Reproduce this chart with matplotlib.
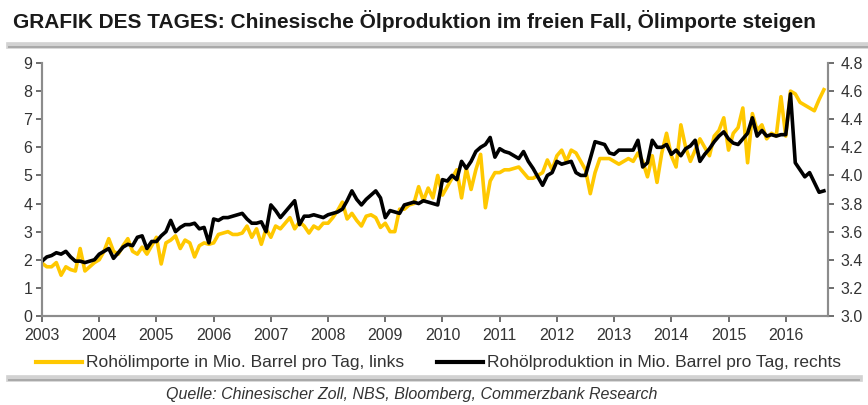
import matplotlib
matplotlib.use("Agg")
import matplotlib.pyplot as plt
from matplotlib.lines import Line2D
import numpy as np

plt.rcParams['font.family'] = ['Liberation Sans', 'DejaVu Sans']

# monthly data, Jan 2003 - Sep 2016
start_year = 2003
imports = [  # Mio. Barrel pro Tag, left axis
    1.88, 1.75, 1.75, 1.9, 1.45, 1.75, 1.65, 1.6, 2.4, 1.6, 1.75, 1.9,      # 2003
    2.0, 2.3, 2.75, 2.3, 2.2, 2.5, 2.75, 2.3, 2.2, 2.45, 2.2, 2.5,          # 2004
    2.8, 1.85, 2.6, 2.7, 2.85, 2.4, 2.7, 2.6, 2.1, 2.5, 2.6, 2.55,         # 2005
    2.6, 2.9, 2.95, 3.0, 2.9, 2.9, 2.95, 3.2, 2.8, 3.1, 2.55, 3.1,         # 2006
    2.8, 3.2, 3.1, 3.3, 3.5, 3.1, 3.35, 3.2, 2.95, 3.2, 3.1, 3.3,          # 2007
    3.3, 3.5, 3.75, 4.05, 3.45, 3.65, 3.4, 3.2, 3.55, 3.6, 3.5, 3.15,      # 2008
    3.3, 3.0, 3.0, 3.8, 3.8, 3.95, 4.0, 4.6, 4.1, 4.55, 4.2, 5.0,          # 2009
    4.3, 4.6, 4.9, 5.2, 4.2, 5.25, 4.5, 5.2, 5.75, 3.85, 4.8, 5.1,         # 2010
    5.1, 5.2, 5.2, 5.25, 5.3, 5.1, 4.9, 4.9, 5.0, 5.1, 5.55, 5.2,          # 2011
    5.7, 5.9, 5.5, 5.9, 5.8, 5.5, 5.2, 4.35, 5.1, 5.6, 5.6, 5.6,           # 2012
    5.5, 5.4, 5.5, 5.6, 5.5, 5.8, 5.5, 4.95, 5.7, 4.75, 5.8, 6.5,          # 2013
    5.7, 5.3, 6.8, 6.0, 5.5, 5.9, 6.3, 6.0, 5.7, 6.4, 6.6, 7.05,           # 2014
    5.9, 6.5, 6.7, 7.4, 5.45, 7.2, 6.6, 6.8, 6.3, 6.5, 6.4, 7.8,           # 2015
    6.4, 8.0, 7.9, 7.6, 7.5, 7.4, 7.3, 7.7, 8.05,                          # 2016
]
production = [  # Mio. Barrel pro Tag, right axis
    3.39, 3.42, 3.43, 3.45, 3.44, 3.46, 3.42, 3.39, 3.39, 3.38, 3.39, 3.40,
    3.44, 3.46, 3.48, 3.41, 3.45, 3.49, 3.51, 3.50, 3.56, 3.57, 3.48, 3.53,
    3.53, 3.57, 3.60, 3.68, 3.60, 3.63, 3.65, 3.65, 3.66, 3.62, 3.63, 3.52,
    3.69, 3.68, 3.70, 3.70, 3.71, 3.72, 3.73, 3.69, 3.66, 3.66, 3.67, 3.60,
    3.79, 3.75, 3.70, 3.74, 3.78, 3.82, 3.65, 3.71, 3.71, 3.72, 3.71, 3.70,
    3.72, 3.73, 3.74, 3.76, 3.82, 3.89, 3.83, 3.79, 3.83, 3.86, 3.89, 3.84,
    3.70, 3.75, 3.74, 3.73, 3.79, 3.80, 3.81, 3.80, 3.82, 3.81, 3.80, 3.79,
    3.97, 3.96, 4.00, 3.97, 4.10, 4.05, 4.10, 4.17, 4.20, 4.22, 4.27, 4.13,
    4.19, 4.17, 4.16, 4.14, 4.12, 4.17, 4.10, 4.05, 3.99, 3.93, 4.00, 4.02,
    4.10, 4.08, 4.09, 4.10, 4.02, 4.00, 4.00, 4.12, 4.24, 4.23, 4.22, 4.16,
    4.15, 4.18, 4.18, 4.18, 4.18, 4.25, 4.06, 4.09, 4.25, 4.20, 4.20, 4.22,
    4.15, 4.18, 4.14, 4.19, 4.21, 4.25, 4.10, 4.15, 4.19, 4.24, 4.28, 4.31,
    4.26, 4.23, 4.22, 4.26, 4.30, 4.41, 4.28, 4.32, 4.28, 4.29, 4.28, 4.29,
    4.29, 4.58, 4.09, 4.04, 3.99, 4.02, 3.95, 3.88, 3.89,
]
years = list(range(2003, 2017))
title = "GRAFIK DES TAGES: Chinesische Ölproduktion im freien Fall, Ölimporte steigen"
label_imp = "Rohölimporte in Mio. Barrel pro Tag, links"
label_prod = "Rohölproduktion in Mio. Barrel pro Tag, rechts"
source = "Quelle: Chinesischer Zoll, NBS, Bloomberg, Commerzbank Research"

x = start_year + np.arange(len(imports)) / 12.0

fig = plt.figure(figsize=(8.68, 4.05), dpi=100)
ax = fig.add_axes([0.0484, 0.2198, 0.9056, 0.6247])
ax2 = ax.twinx()

yellow = "#FFC800"
ax.plot(x, imports, color=yellow, lw=2.6, solid_joinstyle="round")
ax2.plot(x, production, color="black", lw=2.6, solid_joinstyle="round")

spine_col = "#8c8c8c"
txt_col = "#333333"
for a in (ax, ax2):
    a.spines["top"].set_visible(False)
    for s in ("left", "right", "bottom"):
        a.spines[s].set_color(spine_col)
        a.spines[s].set_linewidth(1.5)
    a.tick_params(colors="#555555", labelcolor=txt_col, labelsize=11.5,
                  length=4, width=1.2, direction="out")

ax.set_xlim(2003, 2016.74)
ax.set_xticks(years)
ax.set_xticklabels([str(y) for y in years])
ax.set_ylim(0, 9)
ax.set_yticks(range(0, 10))
ax2.set_ylim(3.0, 4.8)
ax2.set_yticks(np.arange(3.0, 4.81, 0.2))
ax2.set_yticklabels([f"{v:.1f}" for v in np.arange(3.0, 4.81, 0.2)])
ax.tick_params(axis="x", pad=5)
ax.tick_params(axis="y", pad=3)
ax2.tick_params(axis="y", pad=5)

fig.text(0.015, 0.947, title, fontsize=15, fontweight="bold", color="#1a1a1a",
         va="center", ha="left")

# gray separator bars
for yb, xe in ((0.889, 1.0), (0.0667, 0.99)):
    fig.add_artist(Line2D([0.010, xe], [yb, yb], color="#d2d2d2", lw=4.8,
                          transform=fig.transFigure))
    fig.add_artist(Line2D([0.010, xe], [yb - 0.004, yb - 0.004], color="#a8a8a8",
                          lw=1.4, transform=fig.transFigure))

# legend, laid out like the original
ly = 0.106
fig.add_artist(Line2D([0.0415, 0.0945], [ly, ly], color=yellow, lw=3,
                      transform=fig.transFigure))
fig.text(0.099, ly, label_imp, fontsize=12.5, color=txt_col, va="center", ha="left")
fig.add_artist(Line2D([0.503, 0.556], [ly, ly], color="black", lw=3,
                      transform=fig.transFigure))
fig.text(0.561, ly, label_prod, fontsize=12.5, color=txt_col, va="center", ha="left")

fig.text(0.474, 0.008, source, fontsize=11.5, style="italic", color=txt_col,
         ha="center", va="bottom")

fig.savefig("out.png", dpi=100)
